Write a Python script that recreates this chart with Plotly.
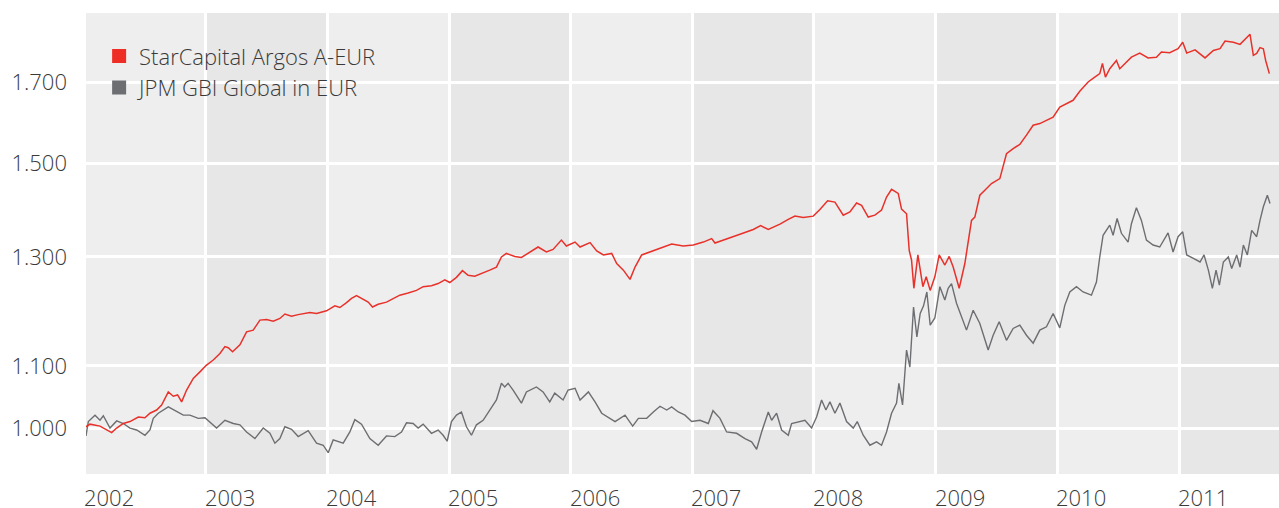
import plotly.graph_objects as go

# ---------------- data ----------------
fund_name = "StarCapital Argos A-EUR"
bench_name = "JPM GBI Global in EUR"

red_dates = [
    "2002-01-07","2002-01-19","2002-02-18","2002-03-10","2002-03-25","2002-04-09","2002-04-29","2002-05-19",
    "2002-06-13","2002-07-03","2002-07-18","2002-08-07","2002-08-22","2002-09-11","2002-09-26","2002-10-09",
    "2002-10-21","2002-11-05","2002-11-25","2002-12-15","2003-01-03","2003-01-24","2003-02-13","2003-02-28",
    "2003-03-10","2003-03-23","2003-04-14","2003-05-04","2003-05-24","2003-06-13","2003-07-03","2003-07-23",
    "2003-08-12","2003-08-27","2003-09-16","2003-10-06","2003-11-10","2003-11-30","2003-12-30","2004-01-24",
    "2004-02-08","2004-02-28","2004-03-14","2004-03-29","2004-04-18","2004-05-03","2004-05-16","2004-06-02",
    "2004-06-27","2004-07-17","2004-08-06","2004-08-31","2004-09-25","2004-10-15","2004-11-09","2004-11-29",
    "2004-12-19","2005-01-03","2005-01-23","2005-02-10","2005-02-27","2005-03-19","2005-04-08","2005-05-03",
    "2005-05-23","2005-06-07","2005-06-22","2005-07-17","2005-08-06","2005-08-26","2005-09-25","2005-10-20",
    "2005-11-09","2005-12-04","2005-12-19","2006-01-14","2006-01-29","2006-02-28","2006-03-20","2006-04-09",
    "2006-05-04","2006-05-19","2006-06-08","2006-06-28","2006-07-13","2006-08-02","2006-08-27","2006-09-26",
    "2006-10-31","2006-12-05","2007-01-04","2007-02-03","2007-02-28","2007-03-10","2007-04-14","2007-05-24",
    "2007-07-03","2007-07-25","2007-08-17","2007-09-21","2007-10-16","2007-11-05","2007-11-30","2007-12-30",
    "2008-01-19","2008-02-11","2008-03-04","2008-03-29","2008-04-18","2008-05-08","2008-05-23","2008-06-12",
    "2008-07-02","2008-07-22","2008-08-06","2008-08-21","2008-09-10","2008-09-20","2008-10-05","2008-10-13",
    "2008-10-20","2008-10-27","2008-11-08","2008-11-16","2008-11-23","2008-12-03","2008-12-15","2008-12-29",
    "2009-01-11","2009-01-28","2009-02-10","2009-02-22","2009-03-12","2009-03-29","2009-04-18","2009-04-28",
    "2009-05-13","2009-05-28","2009-06-17","2009-07-12","2009-08-01","2009-08-21","2009-09-10","2009-09-30",
    "2009-10-20","2009-11-09","2009-11-29","2009-12-19","2010-01-08","2010-01-28","2010-02-17","2010-03-09",
    "2010-04-03","2010-04-23","2010-05-08","2010-05-16","2010-05-25","2010-06-07","2010-06-27","2010-07-07",
    "2010-07-22","2010-08-11","2010-09-05","2010-09-30","2010-10-25","2010-11-09","2010-12-04","2010-12-29",
    "2011-01-12","2011-01-24","2011-02-18","2011-03-20","2011-04-14","2011-05-04","2011-05-19","2011-06-13",
    "2011-07-03","2011-07-18","2011-08-02","2011-08-12","2011-08-22","2011-09-01","2011-09-11","2011-09-18",
    "2011-09-29",
]
red_values = [
    1.002,1.006,1.003,0.997,0.993,1.000,1.007,1.010,
    1.017,1.016,1.023,1.028,1.036,1.057,1.050,1.052,
    1.041,1.060,1.079,1.090,1.101,1.110,1.121,1.133,
    1.131,1.124,1.136,1.159,1.162,1.180,1.181,1.178,
    1.183,1.191,1.187,1.190,1.194,1.192,1.197,1.206,
    1.203,1.212,1.220,1.225,1.218,1.213,1.204,1.209,
    1.213,1.220,1.226,1.230,1.235,1.242,1.244,1.248,
    1.255,1.250,1.260,1.273,1.264,1.262,1.267,1.274,
    1.280,1.300,1.307,1.301,1.299,1.308,1.320,1.310,
    1.315,1.334,1.322,1.330,1.320,1.329,1.312,1.304,
    1.307,1.287,1.274,1.256,1.280,1.304,1.310,1.318,
    1.326,1.322,1.324,1.330,1.337,1.328,1.337,1.346,
    1.356,1.364,1.356,1.367,1.377,1.384,1.381,1.384,
    1.398,1.417,1.414,1.386,1.393,1.412,1.407,1.382,
    1.386,1.397,1.425,1.442,1.433,1.399,1.389,1.313,
    1.294,1.239,1.304,1.274,1.242,1.261,1.235,1.261,
    1.304,1.284,1.301,1.280,1.239,1.287,1.375,1.382,
    1.429,1.440,1.455,1.466,1.523,1.535,1.545,1.567,
    1.591,1.595,1.603,1.611,1.636,1.645,1.653,1.676,
    1.700,1.713,1.722,1.749,1.713,1.735,1.757,1.735,
    1.749,1.766,1.777,1.764,1.766,1.780,1.778,1.789,
    1.807,1.777,1.786,1.764,1.784,1.789,1.810,1.807,
    1.801,1.814,1.829,1.771,1.776,1.792,1.789,1.757,
    1.722,
]

gray_dates = [
    "2002-01-07","2002-01-14","2002-02-03","2002-02-18","2002-02-28","2002-03-20","2002-04-09","2002-04-29",
    "2002-05-19","2002-06-08","2002-07-03","2002-07-18","2002-07-28","2002-08-12","2002-09-11","2002-10-06",
    "2002-10-26","2002-11-15","2002-12-10","2002-12-30","2003-01-19","2003-02-03","2003-02-28","2003-03-25",
    "2003-04-14","2003-05-04","2003-05-29","2003-06-23","2003-07-13","2003-07-28","2003-08-12","2003-08-27",
    "2003-09-16","2003-10-06","2003-11-05","2003-11-30","2003-12-20","2004-01-04","2004-01-19","2004-02-18",
    "2004-03-09","2004-03-24","2004-04-13","2004-05-08","2004-06-02","2004-06-27","2004-07-22","2004-08-11",
    "2004-08-26","2004-09-15","2004-09-30","2004-10-15","2004-11-09","2004-11-29","2004-12-14","2004-12-26",
    "2005-01-08","2005-01-23","2005-02-07","2005-02-22","2005-03-09","2005-03-24","2005-04-13","2005-05-03",
    "2005-05-23","2005-06-07","2005-06-17","2005-06-27","2005-07-12","2005-08-06","2005-08-21","2005-09-20",
    "2005-10-10","2005-10-30","2005-11-14","2005-12-09","2005-12-24","2006-01-14","2006-01-29","2006-02-23",
    "2006-03-15","2006-04-04","2006-04-24","2006-05-14","2006-06-13","2006-07-06","2006-07-23","2006-08-17",
    "2006-09-06","2006-09-26","2006-10-16","2006-10-31","2006-11-20","2006-12-10","2006-12-30","2007-01-24",
    "2007-02-18","2007-03-04","2007-03-25","2007-04-14","2007-05-14","2007-06-08","2007-06-28","2007-07-13",
    "2007-07-28","2007-08-17","2007-08-27","2007-09-11","2007-09-26","2007-10-16","2007-10-26","2007-11-15",
    "2007-12-05","2007-12-25","2008-01-09","2008-01-24","2008-02-06","2008-02-18","2008-03-04","2008-03-19",
    "2008-04-08","2008-04-28","2008-05-10","2008-05-28","2008-06-17","2008-07-07","2008-07-22","2008-08-06",
    "2008-08-21","2008-09-05","2008-09-12","2008-09-23","2008-10-05","2008-10-15","2008-10-26","2008-11-05",
    "2008-11-15","2008-11-25","2008-12-05","2008-12-15","2008-12-29","2009-01-13","2009-01-28","2009-02-07",
    "2009-02-17","2009-03-04","2009-03-19","2009-04-03","2009-04-23","2009-05-13","2009-06-07","2009-06-22",
    "2009-07-10","2009-08-01","2009-08-21","2009-09-10","2009-09-30","2009-10-20","2009-11-09","2009-11-29",
    "2009-12-19","2010-01-08","2010-01-23","2010-02-07","2010-02-27","2010-03-19","2010-04-13","2010-04-28",
    "2010-05-08","2010-05-18","2010-06-07","2010-06-17","2010-06-29","2010-07-12","2010-08-01","2010-08-11",
    "2010-08-26","2010-09-10","2010-09-25","2010-10-15","2010-11-04","2010-11-29","2010-12-14","2010-12-29",
    "2011-01-12","2011-01-24","2011-02-13","2011-03-05","2011-03-17","2011-03-30","2011-04-11","2011-04-22",
    "2011-05-02","2011-05-14","2011-05-29","2011-06-08","2011-06-23","2011-07-03","2011-07-13","2011-07-25",
    "2011-08-07","2011-08-22","2011-09-01","2011-09-11","2011-09-23","2011-10-01",
]
gray_values = [
    0.988,1.010,1.020,1.012,1.019,1.000,1.011,1.007,
    1.000,0.997,0.989,0.997,1.015,1.023,1.033,1.025,
    1.020,1.020,1.015,1.016,1.007,1.000,1.012,1.007,
    1.005,0.994,0.984,1.000,0.992,0.977,0.984,1.002,
    0.998,0.987,0.996,0.977,0.974,0.963,0.982,0.977,
    0.994,1.013,1.006,0.984,0.974,0.988,0.987,0.994,
    1.008,1.007,1.000,1.006,0.992,0.997,0.989,0.980,
    1.010,1.020,1.025,1.002,0.989,1.005,1.012,1.028,
    1.044,1.071,1.065,1.071,1.060,1.039,1.057,1.065,
    1.057,1.041,1.055,1.044,1.060,1.063,1.044,1.057,
    1.041,1.023,1.017,1.010,1.020,1.003,1.015,1.015,
    1.025,1.034,1.028,1.033,1.025,1.020,1.010,1.012,
    1.007,1.027,1.015,0.994,0.992,0.984,0.979,0.968,
    0.994,1.025,1.012,1.023,0.997,0.989,1.007,1.010,
    1.012,1.000,1.017,1.044,1.028,1.041,1.023,1.039,
    1.010,1.000,1.010,0.989,0.974,0.979,0.974,0.994,
    1.023,1.039,1.071,1.036,1.127,1.098,1.204,1.150,
    1.192,1.206,1.232,1.171,1.184,1.242,1.217,1.239,
    1.248,1.211,1.186,1.162,1.198,1.174,1.127,1.153,
    1.177,1.144,1.165,1.171,1.153,1.139,1.162,1.168,
    1.192,1.166,1.207,1.232,1.242,1.232,1.226,1.251,
    1.300,1.344,1.365,1.344,1.379,1.348,1.330,1.368,
    1.402,1.375,1.334,1.324,1.320,1.349,1.310,1.341,
    1.351,1.304,1.297,1.290,1.304,1.274,1.239,1.274,
    1.245,1.290,1.300,1.277,1.304,1.280,1.324,1.304,
    1.354,1.341,1.375,1.404,1.429,1.411,
]

y_ticks = [1.0, 1.1, 1.3, 1.5, 1.7]
y_tick_labels = ["1.000", "1.100", "1.300", "1.500", "1.700"]
years = [2002, 2003, 2004, 2005, 2006, 2007, 2008, 2009, 2010, 2011]

# ---------------- styling ----------------
RED = "#e8312a"
GRAY = "#6d6e71"
TEXT = "#3a3a3a"
BG_LIGHT = "#eeeeee"
BG_DARK = "#e7e7e7"
FONT = "Open Sans, Noto Sans, sans-serif"

fig = go.Figure()
fig.add_trace(go.Scatter(x=gray_dates, y=gray_values, mode="lines",
                         line=dict(color=GRAY, width=1.4), showlegend=False, name=bench_name))
fig.add_trace(go.Scatter(x=red_dates, y=red_values, mode="lines",
                         line=dict(color=RED, width=1.5), showlegend=False, name=fund_name))
# legend entries (square swatches)
fig.add_trace(go.Scatter(x=[None], y=[None], mode="markers", name=fund_name,
                         marker=dict(symbol="square", size=14, color="#ee2d24")))
fig.add_trace(go.Scatter(x=[None], y=[None], mode="markers", name=bench_name,
                         marker=dict(symbol="square", size=14, color=GRAY)))

shapes = []
for yr in years:
    if yr % 2 == 1:
        shapes.append(dict(type="rect", xref="x", yref="paper",
                           x0=f"{yr}-01-01", x1=f"{yr + 1}-01-01", y0=0, y1=1,
                           fillcolor=BG_DARK, line=dict(width=0), layer="below"))

label_font = dict(size=22, color=TEXT, family=FONT, weight=300)
annotations = []
for yr in years:
    if yr == years[0]:
        annotations.append(dict(xref="paper", x=0, yref="paper", y=0, text=str(yr),
                                showarrow=False, xanchor="left", yanchor="middle",
                                xshift=-4, yshift=-23, font=label_font))
    else:
        annotations.append(dict(xref="x", x=f"{yr}-01-01", yref="paper", y=0, text=str(yr),
                                showarrow=False, xanchor="left", yanchor="middle",
                                xshift=-3, yshift=-23, font=label_font))

fig.update_layout(
    width=1279, height=508,
    margin=dict(l=86, r=0, t=13, b=34),
    paper_bgcolor="white", plot_bgcolor=BG_LIGHT,
    font=dict(family=FONT, size=22, color=TEXT, weight=300),
    shapes=shapes, annotations=annotations,
    showlegend=True,
    legend=dict(x=0.011, y=0.952, xanchor="left", yanchor="top",
                bgcolor="rgba(0,0,0,0)", font=label_font,
                tracegroupgap=0, itemclick=False),
    hovermode=False,
)
fig.update_xaxes(type="date", range=["2002-01-07", "2011-10-28"],
                 tickvals=[f"{yr}-01-01" for yr in years[1:]],
                 showticklabels=False, showgrid=True, gridcolor="white", gridwidth=3,
                 zeroline=False, showline=False, ticks="")
fig.update_yaxes(type="log", range=[-0.0306, 0.2764],
                 tickvals=y_ticks, ticktext=y_tick_labels,
                 showgrid=True, gridcolor="white", gridwidth=3,
                 zeroline=False, showline=False, ticks="", ticklabelstandoff=18,
                 tickfont=label_font)

fig.write_html("out.html", config={"displayModeBar": False},
               post_script="document.body.style.margin='0';")
